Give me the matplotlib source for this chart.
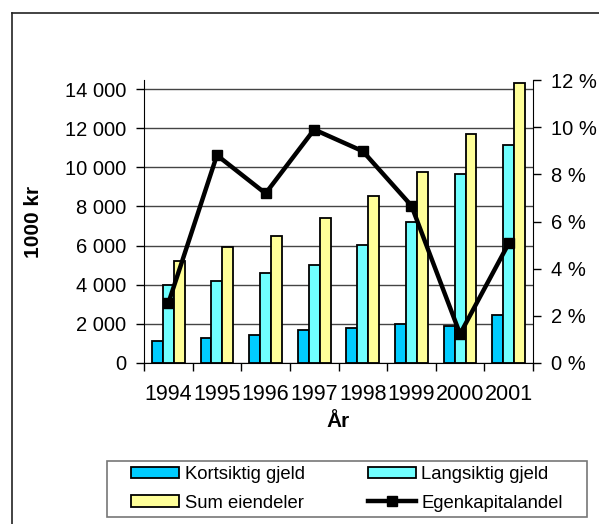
import matplotlib
matplotlib.use('Agg')
from matplotlib import pyplot as plt
from matplotlib.lines import Line2D
from matplotlib.patches import Patch, Rectangle
from matplotlib.ticker import FuncFormatter, MultipleLocator, FixedLocator
import numpy as np

plt.rcParams['font.family'] = ['Liberation Sans', 'DejaVu Sans']

years = ['1994', '1995', '1996', '1997', '1998', '1999', '2000', '2001']
kortsiktig = [1120, 1260, 1430, 1690, 1770, 1980, 1910, 2450]
langsiktig = [3970, 4200, 4620, 5010, 6030, 7190, 9660, 11160]
sum_eiendeler = [5210, 5950, 6490, 7430, 8550, 9740, 11720, 14330]
egenkapital = [2.53, 8.81, 7.19, 9.90, 8.98, 6.67, 1.23, 5.07]  # percent

c_kort = '#00CCFF'
c_lang = '#70FFFF'
c_sum = '#FFFF99'

fig = plt.figure(figsize=(5.99, 5.24), dpi=100)
W, H = 599, 524
ax = fig.add_axes([144 / W, 1 - 363 / H, (533 - 144) / W, (363 - 80) / H])

x = np.arange(len(years))
w = 0.225
ax.bar(x - w, kortsiktig, w, color=c_kort, edgecolor='black', linewidth=1.3, zorder=2)
ax.bar(x, langsiktig, w, color=c_lang, edgecolor='black', linewidth=1.3, zorder=2)
ax.bar(x + w, sum_eiendeler, w, color=c_sum, edgecolor='black', linewidth=1.3, zorder=2)

ax.set_xlim(-0.5, len(years) - 0.5)
ax.set_ylim(0, 14460)
ax.yaxis.set_major_locator(FixedLocator(np.arange(0, 14001, 2000)))
ax.yaxis.set_major_formatter(FuncFormatter(lambda v, p: f'{int(v):,}'.replace(',', ' ')))
ax.grid(axis='y', color='#444444', linewidth=1)
ax.set_axisbelow(True)

ax.set_xticks(x)
ax.set_xticklabels(years)
ax.xaxis.set_minor_locator(FixedLocator(np.arange(-0.5, len(years), 1)))
ax.tick_params(axis='x', which='major', length=0, pad=15, labelsize=15.5)
ax.tick_params(axis='x', which='minor', length=6, width=1, direction='out')
ax.tick_params(axis='y', length=6, width=1, pad=7, labelsize=14.5)
ax.spines['top'].set_visible(False)
ax.spines['right'].set_visible(False)

ax.set_ylabel('1000 kr', fontsize=15, fontweight='bold')
ax.yaxis.set_label_coords(-0.285, 0.5)
ax.yaxis.label.set_va('center')
ax.set_xlabel('År', fontsize=15, fontweight='bold')
ax.xaxis.set_label_coords(0.5, -0.207)
ax.xaxis.label.set_va('center')

ax2 = ax.twinx()
ax2.plot(x, egenkapital, color='black', linewidth=3.2, marker='s', markersize=6.5, zorder=3)
ax2.set_ylim(0, 12)
ax2.yaxis.set_major_locator(MultipleLocator(2))
ax2.yaxis.set_major_formatter(FuncFormatter(lambda v, p: f'{int(v)} %'))
ax2.tick_params(axis='y', length=6, width=1, pad=7, labelsize=14.5)
ax2.spines['top'].set_visible(False)
ax2.spines['left'].set_visible(False)
ax2.spines['bottom'].set_visible(False)

# outer chart border (left and top only visible)
fig.add_artist(Line2D([12 / W, 12 / W], [0, 1 - 13 / H], color='#222222', linewidth=1.2,
                      transform=fig.transFigure))
fig.add_artist(Line2D([12 / W, 1], [1 - 13 / H, 1 - 13 / H], color='#222222', linewidth=1.2,
                      transform=fig.transFigure))

# legend box
fig.add_artist(Rectangle((107 / W, 1 - 517 / H), (587 - 107) / W, (517 - 461) / H,
                         transform=fig.transFigure, fill=False, edgecolor='#777777',
                         linewidth=1.2))
handles = [
    Patch(facecolor=c_kort, edgecolor='black', linewidth=1.3),
    Patch(facecolor=c_sum, edgecolor='black', linewidth=1.3),
    Patch(facecolor=c_lang, edgecolor='black', linewidth=1.3),
    Line2D([], [], color='black', linewidth=3.2, marker='s', markersize=6.5),
]
labels = ['Kortsiktig gjeld', 'Sum eiendeler', 'Langsiktig gjeld', 'Egenkapitalandel']
fig.legend(handles, labels, ncol=2, loc='center left', frameon=False,
           bbox_to_anchor=(122 / W, 1 - 489 / H), fontsize=13.3, borderpad=0,
           handlelength=2.6, handleheight=0.55, handletextpad=0.3,
           columnspacing=3.4, labelspacing=0.6)

fig.savefig('out.png', dpi=100)
